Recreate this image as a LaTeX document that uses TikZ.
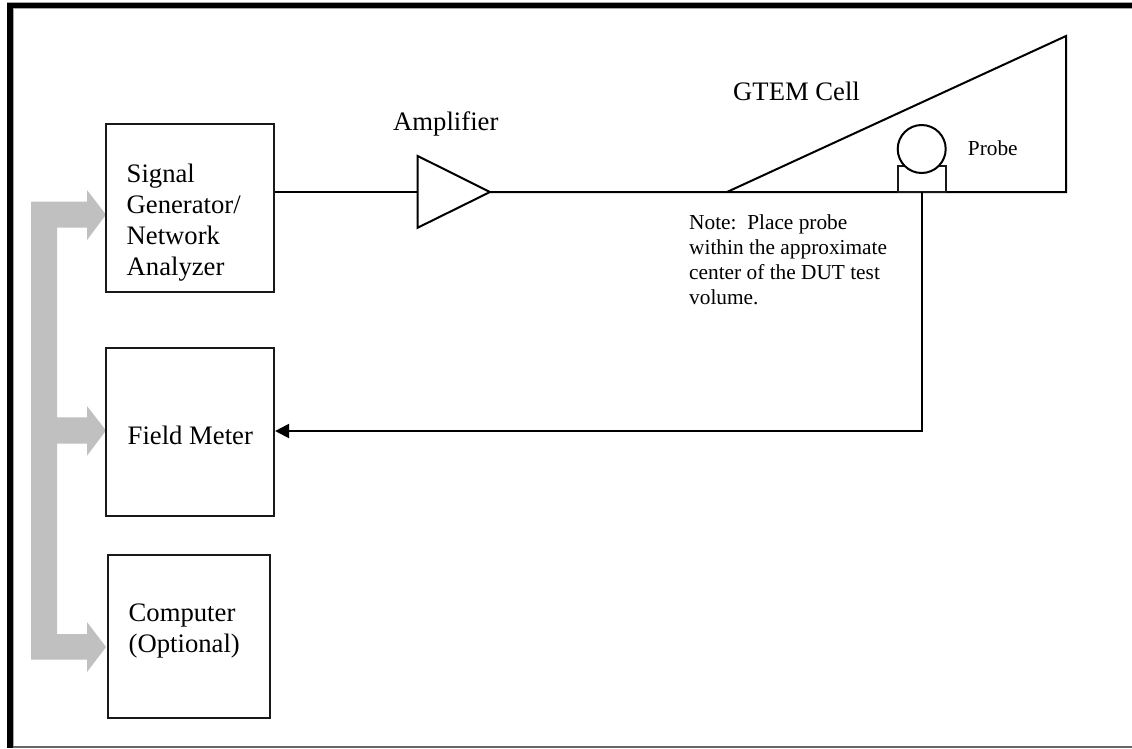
\documentclass[tikz,border=0pt]{standalone}
\usepackage{fontspec}
\setmainfont{Liberation Serif}
\usetikzlibrary{arrows.meta}
\definecolor{busgrey}{HTML}{C0C0C0}
\tikzset{
  wire/.style={line width=2pt,black},
  boxnode/.style={draw=black!90,line width=2pt,fill=white,inner sep=0pt},
  bigtext/.style={inner sep=0pt,anchor=base west,align=left,font=\fontsize{26.67}{31}\selectfont},
  smalltext/.style={inner sep=0pt,anchor=base west,align=left,font=\fontsize{21.33}{25}\selectfont},
  bus/.style={fill=busgrey,draw=none},
  frameedge/.style={fill=black,draw=none}
}
\begin{document}
\begin{tikzpicture}[x=1pt,y=-1pt]
\useasboundingbox (0,0) rectangle (1132,748);
\fill[white] (0,0) rectangle (1132,748);
% frame
\fill[black!35] (6.5,2) rectangle (1132,9);
\fill[black!35] (6.5,2) rectangle (13.8,748);
\fill[frameedge] (7.3,3) rectangle (1132,8.3);
\fill[frameedge] (7.3,3) rectangle (13,748);
\fill[black!60] (13,745.8) rectangle (1132,748);
% grey bus
\fill[bus] (31,201.7) -- (87,201.7) -- (87,190) -- (106,214.7) -- (87,240) -- (87,227.7)
  -- (57,227.7) -- (57,417.3) -- (87,417.3) -- (87,406) -- (106,430.5) -- (87,455.7) -- (87,443.7)
  -- (57,443.7) -- (57,634) -- (87,634) -- (87,622) -- (106,647) -- (87,672) -- (87,659.5)
  -- (31,659.5) -- cycle;
% boxes
\node[boxnode,minimum width=168pt,minimum height=168pt] (sg) at (190,207.6) {};
\node[boxnode,minimum width=168.5pt,minimum height=167.7pt] (fm) at (189.8,432.2) {};
\node[boxnode,minimum width=162.5pt,minimum height=162.4pt] (pc) at (188.8,636.5) {};
% box texts
\node[bigtext] (sgt) at (126.5,275) {Signal\\Generator/\\Network\\Analyzer};
\node[bigtext] (fmt) at (127.5,444) {Field Meter};
\node[bigtext] (pct) at (128.5,652) {Computer\\(Optional)};
% amplifier
\coordinate (ampa) at (417.7,156);
\coordinate (ampb) at (417.7,227.7);
\coordinate (ampin) at (417.7,192);
\coordinate (ampout) at (490,192);
\draw[wire,line join=miter] (ampa) -- (ampout) -- (ampb) -- cycle;
\draw[wire] (sg.east |- ampin) -- (ampin);
\node[bigtext] (ampt) at (393,130) {Amplifier};
% GTEM cell
\coordinate (cellapex) at (727,192);
\coordinate (celltop) at (1066,36);
\coordinate (cellcorner) at (1066,192);
\draw[wire,line join=miter] (ampout) -- (cellcorner) -- (celltop) -- (cellapex);
\node[bigtext] (cellt) at (733,100) {GTEM Cell};
% probe
\node[boxnode,minimum width=48.5pt,minimum height=25.5pt] (base) at (921.8,179.2) {};
\node[draw=black,line width=2pt,fill=white,circle,minimum size=48pt,inner sep=0pt] (probe) at (921.7,149) {};
\node[smalltext] (probet) at (967.7,155) {Probe};
\coordinate (bend) at (921.8,431);
\draw[wire,line cap=rect] (base.south) -- (bend);
\draw[wire,-{Triangle[length=14pt,width=14pt]}] (bend) -- (bend -| fm.east);
\node[smalltext] (note) at (689,304) {Note:\ \ Place probe\\within the approximate\\center of the DUT test\\volume.};
\end{tikzpicture}
\end{document}
